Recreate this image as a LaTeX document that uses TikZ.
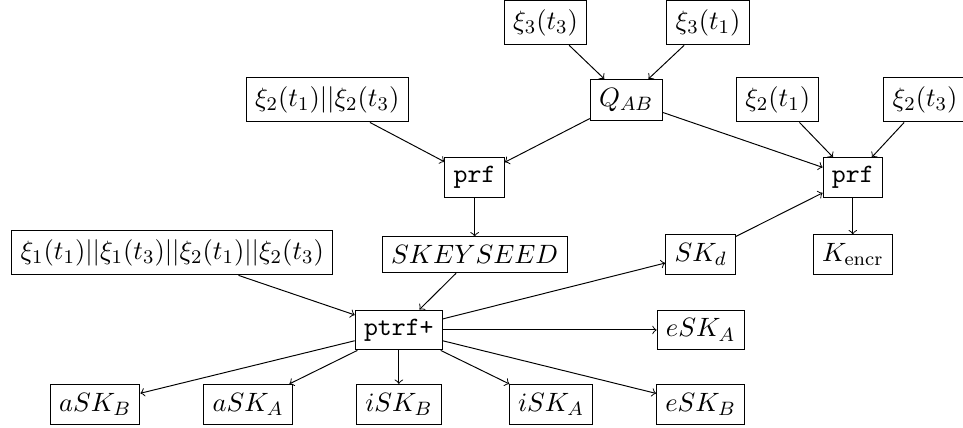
\documentclass[tikz,border=0pt,11pt]{standalone}
\usepackage{amsmath}
\usepackage{amssymb}
\usepackage{tikz}

\tikzset{
  box/.style={draw, rectangle},
}

\begin{document}
\begin{tikzpicture}[->]
  \useasboundingbox (0,0.33) rectangle (13.98,-5.88);
  \node[box] (xi3-t3) at (7.92,0)   {$\xi_3(t_3)$};
  \node[box] (xi3-t1) at (10.28,0)  {$\xi_3(t_1)$};
  \node[box] (Q-AB)   at (9.09,-1.12) {$Q_{AB}$};
  \node[box] (xi2-cat) at (4.75,-1.12) {$\xi_2(t_1)||\xi_2(t_3)$};
  \node[box] (xi2-t1) at (11.29,-1.12) {$\xi_2(t_1)$};
  \node[box] (xi2-t3) at (13.43,-1.12) {$\xi_2(t_3)$};
  \node[box] (prf-seed) at (6.89,-2.25) {\texttt{prf}};
  \node[box] (prf-encr) at (12.38,-2.25) {\texttt{prf}};
  \node[box] (xi-all) at (2.50,-3.34) {$\xi_1(t_1)||\xi_1(t_3)||\xi_2(t_1)||\xi_2(t_3)$};
  \node[box] (seed)   at (6.89,-3.37) {$SKEYSEED$};
  \node[box] (SK-d)   at (10.17,-3.36) {$SK_d$};
  \node[box] (K-encr) at (12.38,-3.37) {$K_{\text{encr}}$};
  \node[box] (ptrf)   at (5.79,-4.46) {\texttt{ptrf+}};
  \node[box] (eSK-A)  at (10.17,-4.46) {$eSK_A$};
  \node[box] (aSK-B)  at (1.38,-5.54) {$aSK_B$};
  \node[box] (aSK-A)  at (3.60,-5.54) {$aSK_A$};
  \node[box] (iSK-B)  at (5.79,-5.54) {$iSK_B$};
  \node[box] (iSK-A)  at (8.00,-5.54) {$iSK_A$};
  \node[box] (eSK-B)  at (10.17,-5.54) {$eSK_B$};

  % Connect the nodes
  \draw (xi3-t3) -- (Q-AB);
  \draw (xi3-t1) -- (Q-AB);
  \draw (Q-AB) -- (prf-seed);
  \draw (Q-AB) -- (prf-encr);
  \draw (xi2-cat) -- (prf-seed);
  \draw (xi2-t1) -- (prf-encr);
  \draw (xi2-t3) -- (prf-encr);
  \draw (prf-seed) -- (seed);
  \draw (prf-encr) -- (K-encr);
  \draw (SK-d) -- (prf-encr);
  \draw (seed) -- (ptrf);
  \draw (xi-all) -- (ptrf);
  \foreach \out in {SK-d, eSK-A, eSK-B, iSK-A, iSK-B, aSK-A, aSK-B}
    \draw (ptrf) -- (\out);
\end{tikzpicture}
\end{document}
